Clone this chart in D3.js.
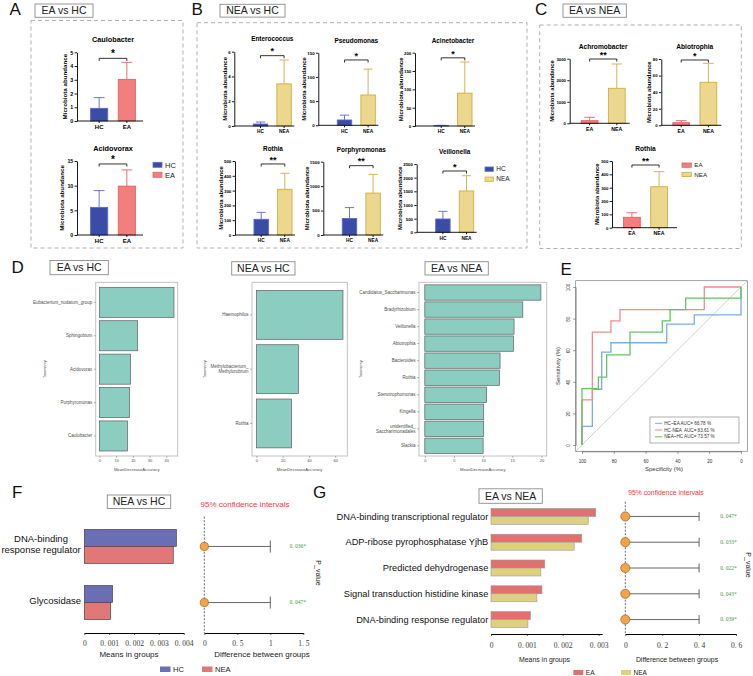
<!DOCTYPE html>
<html>
<head>
<meta charset="utf-8">
<script src="https://cdn.jsdelivr.net/npm/d3@7/dist/d3.min.js"></script>
<style>
html,body{margin:0;padding:0;background:#fff;}
svg{display:block;}
</style>
</head>
<body>
<svg id="chart" width="753" height="676" viewBox="0 0 753 676"></svg>
<script>
// ================= DATA =================
// Panel A : EA vs HC
const A_groups = ["HC", "EA"];
const A_taxa = ["Caulobacter", "Acidovorax"];
const A_means = [[0.92, 3.03], [5.6, 9.9]];
const A_upper = [[1.7, 4.27], [9.0, 13.2]];
const A_yMax = [5, 15];
const A_yStep = [1, 5];
const A_sig = ["*", "*"];
const A_sigAt = [4.56, 14.4];

// Panel B : NEA vs HC
const B_groups = ["HC", "NEA"];
const B_taxa = ["Enterococcus", "Pseudomonas", "Acinetobacter", "Rothia", "Porphyromonas", "Veillonella"];
const B_means = [[0.16, 3.4], [11, 62.6], [1, 89.6], [106, 309], [338, 858], [487, 1512]];
const B_upper = [[0.32, 5.33], [21, 116], [2, 174.5], [153, 417], [561, 1240], [768, 2072]];
const B_yMax = [6, 150, 200, 500, 1500, 2500];
const B_yStep = [2, 50, 50, 100, 500, 500];
const B_sig = ["*", "*", "*", "**", "**", "*"];
const B_sigAt = [5.68, 135, 186, 480, 1419, 2244];

// Panel C : EA vs NEA
const C_groups = ["EA", "NEA"];
const C_taxa = ["Achromobacter", "Abiotrophia", "Rothia"];
const C_means = [[121, 1625], [3.1, 51.9], [78, 307]];
const C_upper = [[279, 2754], [5.6, 74.8], [112, 420]];
const C_yMax = [3000, 80, 500];
const C_yStep = [1000, 20, 100];
const C_sig = ["**", "*", "**"];
const C_sigAt = [2986, 78.8, 470];

// Panel D : random forest MeanDecreaseAccuracy
const D1_taxa = ["Eubacterium_nodatum_group", "Sphingobium", "Acidovorax", "Porphyromonas", "Caulobacter"];
const D1_mda = [44.6, 22.9, 18.6, 18.0, 16.8];
const D1_ticks = [0, 10, 20, 30, 40];
const D2_taxa = ["Haemophilus", "Methylobacterium_\nMethylorubrum", "Rothia"];
const D2_mda = [65.9, 32.0, 26.8];
const D2_ticks = [0, 20, 40, 60];
const D3_taxa = ["Candidatus_Saccharimonas", "Bradyrhizobium", "Veillonella", "Abiotrophia", "Bacteroides",
                 "Rothia", "Stenotrophomonas", "Kingella", "unidentified_\nSaccharimonadales", "Slackia"];
const D3_mda = [19.9, 16.8, 15.3, 15.2, 12.9, 12.8, 10.6, 10.1, 10.1, 10.0];
const D3_ticks = [0, 5, 10, 15, 20];

// Panel E : ROC curves (specificity %, sensitivity %)
const E_names = ["HC~EA AUC= 66.78 %", "HC-NEA  AUC= 83.61 %", "NEA~HC AUC= 73.57 %"];
const E_spec = [
  [100, 100, 93.5, 93.5, 87.6, 87.6, 81.8, 81.8, 46.7, 46.7, 29.4, 29.4, 0, 0],
  [100, 100, 93.5, 93.5, 81.8, 81.8, 76.1, 76.1, 23.1, 23.1, 0],
  [100, 100, 89.7, 89.7, 84.5, 84.5, 69.8, 69.8, 49.5, 49.5, 44.6, 44.6, 34.8, 34.8, 0, 0]
];
const E_sens = [
  [0, 11.8, 11.8, 35.3, 35.3, 58.8, 58.8, 64.7, 64.7, 76.5, 76.5, 82.4, 82.4, 100],
  [0, 28.6, 28.6, 71.4, 71.4, 78.6, 78.6, 85.7, 85.7, 100, 100],
  [0, 35.7, 35.7, 42.9, 42.9, 57.1, 57.1, 71.4, 71.4, 78.6, 78.6, 85.7, 85.7, 92.9, 92.9, 100]
];
const E_ticks = [0, 20, 40, 60, 80, 100];

// Panel F : NEA vs HC functions
const F_groups = ["HC", "NEA"];
const F_features = ["DNA-binding\nresponse regulator", "Glycosidase"];
const F_means = [[0.00371, 0.00358], [0.00114, 0.00106]];
const F_diff = [0, 0];
const F_ciHigh = [1.0, 1.0];
const F_p = [0.036, 0.047];
const F_meanTicks = [0, 0.001, 0.002, 0.003, 0.004];
const F_diffTicks = [0, 0.5, 1, 1.5];

// Panel G : EA vs NEA functions
const G_groups = ["EA", "NEA"];
const G_features = ["DNA-binding transcriptional regulator", "ADP-ribose pyrophosphatase YjhB",
                    "Predicted dehydrogenase", "Signal transduction histidine kinase", "DNA-binding response regulator"];
const G_means = [[0.00292, 0.00271], [0.00253, 0.00232], [0.0015, 0.00139], [0.00142, 0.00128], [0.0011, 0.00103]];
const G_diff = [0, 0, 0, 0, 0];
const G_ciHigh = [0.4, 0.4, 0.4, 0.4, 0.4];
const G_p = [0.047, 0.033, 0.022, 0.043, 0.039];
const G_meanTicks = [0, 0.001, 0.002, 0.003];
const G_diffTicks = [0, 0.2, 0.4, 0.6];

// ================= DRAWING =================
const svg = d3.select("#chart");
const SANS = "'Liberation Sans', Arial, Helvetica, sans-serif";
const SERIF = "'Liberation Serif', 'Times New Roman', serif";

const COL = {
  HC:  {fill: "#3B4CA7", stroke: "#5A6BC4"},
  EA:  {fill: "#F27E7E", stroke: "#E46262"},
  NEA: {fill: "#EBD78E", stroke: "#D2AC3E"}
};

function addText(p, x, y, s, o) {
  o = o || {};
  const t = p.append("text").attr("x", x).attr("y", y)
    .attr("font-family", o.ff || SANS).attr("font-size", o.fs || 10)
    .style("fill", o.fill || "#1a1a1a").text(s);
  if (o.anchor) t.attr("text-anchor", o.anchor);
  if (o.fw) t.attr("font-weight", o.fw);
  if (o.rot != null) t.attr("transform", `rotate(${o.rot},${x},${y})`);
  return t;
}
function styleAxis(a, fs, ff, fw, col, lineCol, lw) {
  a.attr("font-size", fs).attr("font-family", ff);
  a.selectAll("text").style("fill", col).attr("font-weight", fw || null);
  a.selectAll("line,path").style("stroke", lineCol).attr("stroke-width", lw);
}
function panelLetter(s, x, y) { addText(svg, x, y, s, {fs: 17, fill: "#111"}); }
function labelBox(s, x, y, w, h) {
  svg.append("rect").attr("x", x).attr("y", y).attr("width", w).attr("height", h)
    .attr("fill", "#fff").attr("stroke", "#8c8c8c").attr("stroke-width", 0.9);
  addText(svg, x + w / 2, y + h / 2 + 3.7, s, {fs: 10.5, anchor: "middle", fill: "#222"});
}
function dashedBox(x, y, w, h) {
  svg.append("rect").attr("x", x).attr("y", y).attr("width", w).attr("height", h)
    .attr("fill", "none").attr("stroke", "#a8a8a8").attr("stroke-width", 0.9)
    .attr("stroke-dasharray", "4,3");
}

// ---------- Prism style bar chart ----------
function prismChart(o) {
  const g = svg.append("g");
  const y = d3.scaleLinear().domain([0, o.max]).range([o.yBot, o.yTop]);
  const x = d3.scaleBand().domain(o.groups).range([o.x0 + o.b0, o.x0 + o.b1])
    .paddingInner(0.35).paddingOuter(0.15);
  const bw = x.bandwidth();
  const rows = o.groups.map((k, i) => ({k, m: o.means[i], u: o.upper[i], c: COL[k]}));
  const cx = d => x(d.k) + bw / 2;
  g.selectAll("path.eb").data(rows).join("path").attr("class", "eb")
    .attr("d", d => `M${cx(d)},${y(d.m)}V${y(d.u)}M${cx(d) - bw * 0.3},${y(d.u)}H${cx(d) + bw * 0.3}`)
    .attr("fill", "none").attr("stroke", d => d.c.stroke).attr("stroke-width", 0.9);
  g.selectAll("rect.bar").data(rows).join("rect").attr("class", "bar")
    .attr("x", d => x(d.k) + 0.45).attr("width", bw - 0.9)
    .attr("y", d => y(d.m)).attr("height", d => Math.max(0.01, y(0) - y(d.m)))
    .attr("fill", d => d.c.fill).attr("stroke", d => d.c.stroke).attr("stroke-width", 0.9);
  const ya = g.append("g").attr("transform", `translate(${o.x0},0)`)
    .call(d3.axisLeft(y).tickValues(d3.range(0, o.max + o.step / 2, o.step))
      .tickSize(2.4).tickSizeOuter(0).tickPadding(1.3).tickFormat(d3.format("d")));
  styleAxis(ya, o.st.tick, SANS, "bold", "#000", "#000", 0.9);
  g.append("line").attr("x1", o.x0).attr("x2", o.x0 + o.w).attr("y1", o.yBot).attr("y2", o.yBot)
    .attr("stroke", "#000").attr("stroke-width", 0.9);
  const xa = g.append("g").attr("transform", `translate(0,${o.yBot})`)
    .call(d3.axisBottom(x).tickSize(2).tickPadding(1.8));
  xa.select(".domain").remove();
  styleAxis(xa, o.st.xlab, SANS, "bold", "#000", "#000", 0.9);
  const bb = ya.node().getBBox();
  addText(g, o.x0 + bb.x - o.st.ygap, (o.yTop + o.yBot) / 2, "Microbiota abundance",
    {fs: o.st.ylab, fw: "bold", anchor: "middle", rot: -90, fill: "#000"});
  const r = x.range();
  addText(g, (r[0] + r[1]) / 2, o.titleY, o.title, {fs: o.st.title, fw: "bold", anchor: "middle", fill: "#000"});
  const sy = y(o.sigAt), c1 = x(o.groups[0]) + bw / 2, c2 = x(o.groups[1]) + bw / 2;
  g.append("path").attr("d", `M${c1},${sy + 2.6}V${sy}H${c2}V${sy + 2.6}`)
    .attr("fill", "none").attr("stroke", "#000").attr("stroke-width", 0.8);
  addText(g, (c1 + c2) / 2, sy - 1.3, o.sig, {fs: o.st.star, fw: "bold", anchor: "middle", fill: "#000"});
}
function prismLegend(groups, x, y0, dy, w, h, fs) {
  const g = svg.append("g");
  g.selectAll("rect").data(groups).join("rect")
    .attr("x", x).attr("y", (d, i) => y0 + i * dy).attr("width", w).attr("height", h)
    .attr("fill", d => COL[d].fill).attr("stroke", d => COL[d].stroke).attr("stroke-width", 0.8);
  g.selectAll("text").data(groups).join("text")
    .attr("x", x + w + 3).attr("y", (d, i) => y0 + i * dy + h / 2 + fs * 0.36)
    .attr("font-family", SANS).attr("font-size", fs).style("fill", "#222").text(d => d);
}

// ---------- Panel A ----------
panelLetter("A", 9.5, 15);
labelBox("EA vs HC", 35, 4, 58, 13.3);
dashedBox(31, 20.5, 152, 227.5);
const stA = {title: 7.3, tick: 5.3, xlab: 6, ylab: 6.2, star: 10, ygap: 3.5};
const A_lay = [{x0: 77, yTop: 52.3, yBot: 121, titleY: 41.6}, {x0: 77, yTop: 161, yBot: 235, titleY: 150.6}];
A_taxa.forEach((t, i) => prismChart(Object.assign({groups: A_groups, means: A_means[i], upper: A_upper[i],
  max: A_yMax[i], step: A_yStep[i], sig: A_sig[i], sigAt: A_sigAt[i], title: t, w: 66, b0: 9, b1: 63, st: stA}, A_lay[i])));
prismLegend(A_groups, 153, 162.3, 10, 9, 5, 7.5);

// ---------- Panel B ----------
panelLetter("B", 191.5, 14.5);
labelBox("NEA vs HC", 220, 4.3, 65, 12.8);
dashedBox(197, 22.7, 330, 225.3);
const stB = {title: 6.4, tick: 4.4, xlab: 4.8, ylab: 6, star: 9, ygap: 1.2};
const B_lay = [
  {x0: 234.3, yTop: 51.7, yBot: 126, titleY: 40.6},
  {x0: 318.3, yTop: 52.7, yBot: 125.3, titleY: 42.5},
  {x0: 415, yTop: 52.7, yBot: 126, titleY: 42.6},
  {x0: 235, yTop: 161, yBot: 235, titleY: 150.5},
  {x0: 323.3, yTop: 161.7, yBot: 235, titleY: 152},
  {x0: 416.7, yTop: 164, yBot: 232.3, titleY: 153.5}
];
B_taxa.forEach((t, i) => prismChart(Object.assign({groups: B_groups, means: B_means[i], upper: B_upper[i],
  max: B_yMax[i], step: B_yStep[i], sig: B_sig[i], sigAt: B_sigAt[i], title: t, w: 60, b0: 15, b1: 61, st: stB}, B_lay[i])));
prismLegend(B_groups, 485, 167, 10, 8.3, 4.3, 6.5);

// ---------- Panel C ----------
panelLetter("C", 535, 15);
labelBox("EA vs NEA", 563, 4, 63.3, 13.3);
dashedBox(539.7, 25, 201.6, 223.5);
const stC = {title: 6.6, tick: 4.3, xlab: 5.2, ylab: 5.8, star: 9, ygap: 2};
const C_lay = [
  {x0: 569.7, w: 60, yTop: 58.7, yBot: 123.3, titleY: 48.6},
  {x0: 661.3, w: 60, yTop: 59, yBot: 125.3, titleY: 49},
  {x0: 612, w: 65, yTop: 161, yBot: 227.7, titleY: 150.8}
];
C_taxa.forEach((t, i) => prismChart(Object.assign({groups: C_groups, means: C_means[i], upper: C_upper[i],
  max: C_yMax[i], step: C_yStep[i], sig: C_sig[i], sigAt: C_sigAt[i], title: t, b0: 7, b1: 60, st: stC}, C_lay[i])));
prismLegend(C_groups, 682, 163, 9.3, 9.3, 4.3, 6.2);

// ---------- Panel D ----------
function rfChart(o) {
  const g = svg.append("g");
  const M = d3.max(o.vals);
  const x = d3.scaleLinear().domain([-0.05 * M, 1.05 * M]).range([o.fx, o.fx + o.fw]);
  const y = d3.scaleBand().domain(o.taxa).range([o.fy, o.fy + o.fh]).paddingInner(0.1).paddingOuter(0.15);
  const rows = o.taxa.map((t, i) => ({t, v: o.vals[i]}));
  g.selectAll("rect.b").data(rows).join("rect").attr("class", "b")
    .attr("x", x(0)).attr("y", d => y(d.t)).attr("width", d => x(d.v) - x(0)).attr("height", y.bandwidth())
    .attr("fill", "#8BCDC1").attr("stroke", "#5e5e5e").attr("stroke-width", 0.7);
  g.append("rect").attr("x", o.fx).attr("y", o.fy).attr("width", o.fw).attr("height", o.fh)
    .attr("fill", "none").attr("stroke", "#bdbdbd").attr("stroke-width", 0.9);
  const xa = g.append("g").attr("transform", `translate(0,${o.fy + o.fh})`)
    .call(d3.axisBottom(x).tickValues(o.ticks).tickSize(1.8).tickPadding(1.2).tickFormat(d3.format("d")));
  xa.select(".domain").remove();
  styleAxis(xa, 4, SANS, null, "#4d4d4d", "#666", 0.5);
  const ya = g.append("g").attr("transform", `translate(${o.fx},0)`)
    .call(d3.axisLeft(y).tickSize(1.8).tickPadding(1.6));
  ya.select(".domain").remove();
  styleAxis(ya, 4.5, SANS, null, "#4d4d4d", "#666", 0.5);
  ya.selectAll(".tick text").each(function (d) {
    const lines = d.split("\n");
    if (lines.length > 1) {
      const t = d3.select(this);
      t.text(null).attr("dy", null);
      lines.forEach((l, i) => t.append("tspan").attr("x", -3.4)
        .attr("dy", i === 0 ? `${0.32 - 0.6 * (lines.length - 1)}em` : "1.2em").text(l));
    }
  });
  addText(g, o.fx + o.fw / 2, 470.5, "MeanDecreaseAccuracy", {fs: 4.2, anchor: "middle", fill: "#4d4d4d"});
  addText(g, o.taxX, o.fy + o.fh / 2, "Taxonomy", {fs: 3.9, anchor: "middle", rot: -90, fill: "#4d4d4d"});
}
panelLetter("D", 11.5, 272.5);
labelBox("EA vs HC", 50, 260.5, 58.3, 14.2);
labelBox("NEA vs HC", 231.7, 261.7, 63.3, 13.3);
labelBox("EA vs NEA", 425, 261.7, 63.3, 13.3);
rfChart({fx: 95.7, fy: 282.3, fw: 82, fh: 173.7, taxa: D1_taxa, vals: D1_mda, ticks: D1_ticks, taxX: 45.6});
rfChart({fx: 252, fy: 282.3, fw: 95.3, fh: 173.7, taxa: D2_taxa, vals: D2_mda, ticks: D2_ticks, taxX: 206.4});
rfChart({fx: 419, fy: 282.3, fw: 127.7, fh: 173.7, taxa: D3_taxa, vals: D3_mda, ticks: D3_ticks, taxX: 362.4});

// ---------- Panel E ----------
(function () {
  panelLetter("E", 560.5, 275);
  const g = svg.append("g");
  const x = d3.scaleLinear().domain([100, 0]).range([582, 741]);
  const y = d3.scaleLinear().domain([0, 100]).range([445, 287]);
  const fx0 = x(104), fx1 = x(-4), fy0 = y(104), fy1 = y(-4);
  svg.append("clipPath").attr("id", "rocClip").append("rect")
    .attr("x", fx0).attr("y", fy0).attr("width", fx1 - fx0).attr("height", fy1 - fy0);
  g.append("line").attr("clip-path", "url(#rocClip)")
    .attr("x1", x(104)).attr("y1", y(-4)).attr("x2", x(-4)).attr("y2", y(104))
    .attr("stroke", "#b5b5b5").attr("stroke-width", 0.6);
  const colors = ["#78AEE2", "#F28A8A", "#62C462"];
  const line = d3.line().x(d => x(d[0])).y(d => y(d[1]));
  E_names.forEach((nm, i) => {
    const pts = E_spec[i].map((s, j) => [s, E_sens[i][j]]);
    g.append("path").datum(pts).attr("d", line).attr("fill", "none")
      .attr("stroke", colors[i]).attr("stroke-width", 1.3).attr("clip-path", "url(#rocClip)");
  });
  g.append("rect").attr("x", fx0).attr("y", fy0).attr("width", fx1 - fx0).attr("height", fy1 - fy0)
    .attr("fill", "none").attr("stroke", "#8c8c8c").attr("stroke-width", 0.8);
  const xa = g.append("g").attr("transform", `translate(0,${fy1})`)
    .call(d3.axisBottom(x).tickValues(E_ticks).tickSize(2.5).tickSizeOuter(0).tickPadding(5.5));
  styleAxis(xa, 4.6, SANS, null, "#333", "#555", 0.6);
  const ya = g.append("g").attr("transform", `translate(${fx0},0)`)
    .call(d3.axisLeft(y).tickValues(E_ticks).tickSize(2.5).tickSizeOuter(0));
  styleAxis(ya, 4.6, SANS, null, "#333", "#555", 0.6);
  ya.selectAll(".tick text").attr("x", null).attr("dy", null).attr("text-anchor", "middle")
    .attr("transform", "translate(-5.8,0) rotate(-90)");
  addText(g, 664, 471, "Specificity (%)", {fs: 6, anchor: "middle", fill: "#333"});
  addText(g, 560, 366, "Sensitivity (%)", {fs: 6, anchor: "middle", rot: -90, fill: "#333"});
  g.append("rect").attr("x", 650).attr("y", 417).attr("width", 89).attr("height", 26)
    .attr("fill", "#fff").attr("stroke", "#8c8c8c").attr("stroke-width", 0.7);
  const ly = d3.scalePoint().domain(E_names).range([423.3, 436.8]);
  g.selectAll("line.lg").data(E_names).join("line").attr("class", "lg")
    .attr("x1", 655).attr("x2", 662.3).attr("y1", d => ly(d)).attr("y2", d => ly(d))
    .attr("stroke", (d, i) => colors[i]).attr("stroke-width", 1);
  g.selectAll("text.lg").data(E_names).join("text").attr("class", "lg")
    .attr("x", 664.3).attr("y", d => ly(d) + 1.6).attr("font-family", SANS).attr("font-size", 4.6)
    .style("fill", "#333").attr("xml:space", "preserve").style("white-space", "pre").text(d => d);
})();

// ---------- Panels F & G (STAMP style) ----------
function fmtTick(v) { return v === 0 ? "0" : String(+v.toFixed(4)).replace(".", ". "); }
function fmtP(v) { return "0. " + v.toFixed(3).slice(2) + "*"; }
function stamp(o) {
  const g = svg.append("g");
  const y = d3.scaleBand().domain(o.features).range([o.yTop, o.yBot]).paddingInner(o.pIn).paddingOuter(o.pOut);
  const yi = d3.scaleBand().domain(o.groups).range([0, y.bandwidth()]);
  const xm = d3.scaleLinear().domain(o.mDom).range(o.mRange);
  const xd = d3.scaleLinear().domain(o.dDom).range(o.dRange);
  const recs = o.features.flatMap((f, i) => o.groups.map((k, j) => ({f, k, v: o.means[i][j]})));
  g.selectAll("rect.m").data(recs).join("rect").attr("class", "m")
    .attr("x", xm(0)).attr("y", d => y(d.f) + yi(d.k)).attr("width", d => xm(d.v) - xm(0))
    .attr("height", yi.bandwidth()).attr("fill", d => o.colors[d.k])
    .attr("stroke", o.barStroke).attr("stroke-width", 0.6);
  o.features.forEach(f => {
    const lines = f.split("\n");
    const cy = y(f) + y.bandwidth() / 2 + o.labShift;
    const multi = lines.length > 1;
    const t = addText(g, 0, 0, null, {fs: o.labFs, anchor: multi ? "middle" : "end", fill: "#111"});
    lines.forEach((l, i) => t.append("tspan").attr("x", multi ? o.labX - o.multiHalf : o.labX)
      .attr("y", cy + (i - (lines.length - 1) / 2) * o.labFs * 1.15 + o.labFs * 0.35).text(l));
  });
  const ma = g.append("g").attr("transform", `translate(0,${o.axisY})`)
    .call(d3.axisBottom(xm).tickValues(o.mTicks).tickSize(2).tickSizeOuter(0).tickPadding(o.tickPad).tickFormat(fmtTick));
  styleAxis(ma, o.tickFs, SERIF, null, "#3a3a3a", "#000", 1.2);
  ma.selectAll(".tick line").attr("stroke-width", 0.6);
  const da = g.append("g").attr("transform", `translate(0,${o.axisY})`)
    .call(d3.axisBottom(xd).tickValues(o.dTicks).tickSize(2).tickSizeOuter(0).tickPadding(o.tickPad).tickFormat(fmtTick));
  styleAxis(da, o.tickFs, SERIF, null, "#3a3a3a", "#000", 1.2);
  da.selectAll(".tick line").attr("stroke-width", 0.6);
  g.append("line").attr("x1", xd(0)).attr("x2", xd(0)).attr("y1", o.dashTop).attr("y2", o.axisY)
    .attr("stroke", "#444").attr("stroke-width", 0.8).attr("stroke-dasharray", "2,1.5");
  const rows = o.features.map((f, i) => ({f, d: o.diff[i], hi: o.ciHigh[i], p: o.p[i]}));
  const cyf = d => y(d.f) + y.bandwidth() / 2;
  g.selectAll("path.ci").data(rows).join("path").attr("class", "ci")
    .attr("d", d => `M${xd(d.d)},${cyf(d)}H${xd(d.hi)}M${xd(d.hi)},${cyf(d) - o.capH}V${cyf(d) + o.capH}`)
    .attr("fill", "none").attr("stroke", "#555").attr("stroke-width", 0.9);
  g.selectAll("circle").data(rows).join("circle")
    .attr("cx", d => xd(d.d)).attr("cy", cyf).attr("r", o.ptR)
    .attr("fill", "#F5A343").attr("stroke", "#7a5a30").attr("stroke-width", 0.6);
  g.selectAll("text.pv").data(rows).join("text").attr("class", "pv")
    .attr("x", o.pX).attr("y", d => cyf(d) + o.pFs * 0.35).attr("text-anchor", "middle")
    .attr("font-family", SERIF).attr("font-size", o.pFs).style("fill", "#3d9a3d").text(d => fmtP(d.p));
  addText(g, o.ciX, o.ciY, "95% confidence intervals", {fs: o.ciFs, anchor: "middle", fill: "#F23A3A"});
  addText(g, o.meanLabX, o.xLabY, "Means in groups", {fs: o.xLabFs, anchor: "middle", fill: "#222"});
  addText(g, o.diffLabX, o.xLabY, "Difference between groups", {fs: o.xLabFs, anchor: "middle", fill: "#222"});
  addText(g, o.pvLabX, o.pvLabY, "P_value", {fs: 7, anchor: "middle", rot: 90, fill: "#222"});
  const lg = g.append("g");
  lg.selectAll("rect").data(o.groups).join("rect")
    .attr("x", (d, i) => o.legX[i]).attr("y", o.legY).attr("width", o.legW).attr("height", o.legH)
    .attr("fill", d => o.colors[d]);
  lg.selectAll("text").data(o.groups).join("text")
    .attr("x", (d, i) => o.legX[i] + o.legW + 2.5).attr("y", o.legY + o.legH / 2 + o.legFs * 0.36)
    .attr("font-family", SANS).attr("font-size", o.legFs).style("fill", "#222").text(d => d);
}

panelLetter("F", 12, 497.5);
labelBox("NEA vs HC", 107.3, 495, 63.4, 13.5);
stamp({
  groups: F_groups, features: F_features, means: F_means, diff: F_diff, ciHigh: F_ciHigh, p: F_p,
  colors: {HC: "#6A6EB4", NEA: "#E27777"}, barStroke: "#3a3a3a",
  yTop: 517, yBot: 632, pIn: 0.39, pOut: 0.22,
  mDom: [0, 0.004], mRange: [84.3, 183.7], mTicks: F_meanTicks,
  dDom: [0, 1.5], dRange: [204.3, 303.3], dTicks: F_diffTicks,
  axisY: 633, tickPad: 5.2, tickFs: 7.5, dashTop: 516.7,
  labX: 81, multiHalf: 40, labFs: 9.5, labShift: -2,
  capH: 6, ptR: 4.1, pX: 297.7, pFs: 5.5,
  ciX: 245, ciY: 506.8, ciFs: 8, meanLabX: 129, diffLabX: 262, xLabY: 656.8, xLabFs: 8,
  pvLabX: 315.5, pvLabY: 573,
  legX: [160, 202], legY: 666.5, legW: 10.5, legH: 5.5, legFs: 7.6
});

panelLetter("G", 313, 497.5);
labelBox("EA vs NEA", 479, 488.8, 63.3, 14.5);
stamp({
  groups: G_groups, features: G_features, means: G_means, diff: G_diff, ciHigh: G_ciHigh, p: G_p,
  colors: {EA: "#E46F6F", NEA: "#DDD17F"}, barStroke: "#9a9a9a",
  yTop: 502, yBot: 634, pIn: 0.38, pOut: 0.25,
  mDom: [0, 0.0031], mRange: [491, 602.2], mTicks: G_meanTicks,
  dDom: [0, 0.6], dRange: [625.3, 736], dTicks: G_diffTicks,
  axisY: 634, tickPad: 6.2, tickFs: 7.5, dashTop: 501.7,
  labX: 488.3, multiHalf: 0, labFs: 9.25, labShift: 0,
  capH: 4.5, ptR: 4.6, pX: 728.5, pFs: 5.5,
  ciX: 666, ciY: 495.4, ciFs: 6.8, meanLabX: 544.5, diffLabX: 677, xLabY: 662.4, xLabFs: 6.9,
  pvLabX: 745.5, pvLabY: 565,
  legX: [573.3, 621], legY: 670, legW: 10, legH: 5, legFs: 6.5
});
</script>
</body>
</html>
